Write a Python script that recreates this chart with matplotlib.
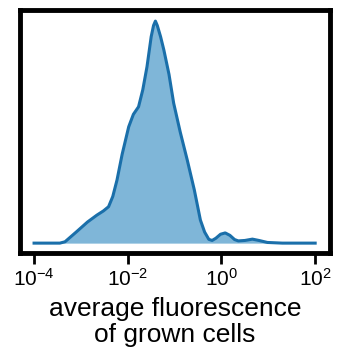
import matplotlib
matplotlib.use("Agg")
import matplotlib.pyplot as plt
import numpy as np

plt.rcParams['font.family'] = ['Liberation Sans', 'DejaVu Sans']

# density of log10(average fluorescence) (peak = 1)
log_fluor = [-4.0, -3.45, -3.34, -3.1, -2.86, -2.66, -2.52, -2.41, -2.32, -2.23,
             -2.12, -1.98, -1.88, -1.77, -1.68, -1.59, -1.50, -1.45, -1.41, -1.37,
             -1.30, -1.23, -1.12, -1.02, -0.88, -0.73, -0.58, -0.45, -0.36, -0.27,
             -0.20, -0.12, -0.02, 0.08, 0.18, 0.28, 0.36, 0.50, 0.66, 0.80,
             0.98, 1.3, 2.0]
density = [0.0, 0.0, 0.006, 0.05, 0.095, 0.126, 0.145, 0.164, 0.21, 0.284,
           0.40, 0.524, 0.58, 0.614, 0.69, 0.794, 0.93, 0.98, 1.0, 0.98,
           0.93, 0.87, 0.76, 0.63, 0.50, 0.374, 0.24, 0.104, 0.05, 0.017,
           0.012, 0.022, 0.040, 0.046, 0.035, 0.016, 0.010, 0.012, 0.018, 0.012,
           0.003, 0.0, 0.0]

x = 10 ** np.array(log_fluor)
line_color = '#1a6faa'

fig = plt.figure(figsize=(3.45, 3.56), dpi=100)
ax = fig.add_axes([0.058, 0.289, 0.899, 0.683])
ax.fill_between(x, 0, density, color='#7fb6d8', lw=0)
ax.plot(x, density, color=line_color, lw=2.2)

ax.set_xscale('log')
ax.set_xlim(10 ** -4.3, 10 ** 2.32)
ax.set_ylim(-0.045, 1.05)
ax.set_xticks([1e-4, 1e-2, 1e0, 1e2])
ax.xaxis.set_minor_locator(matplotlib.ticker.NullLocator())
ax.set_yticks([])
for s in ax.spines.values():
    s.set_linewidth(3.5)
ax.tick_params(axis='x', length=8, width=2, labelsize=15, pad=3)
ax.set_xlabel('average fluorescence\nof grown cells', fontsize=19, labelpad=5,
              linespacing=1.08)

fig.savefig('out.png', dpi=100)
